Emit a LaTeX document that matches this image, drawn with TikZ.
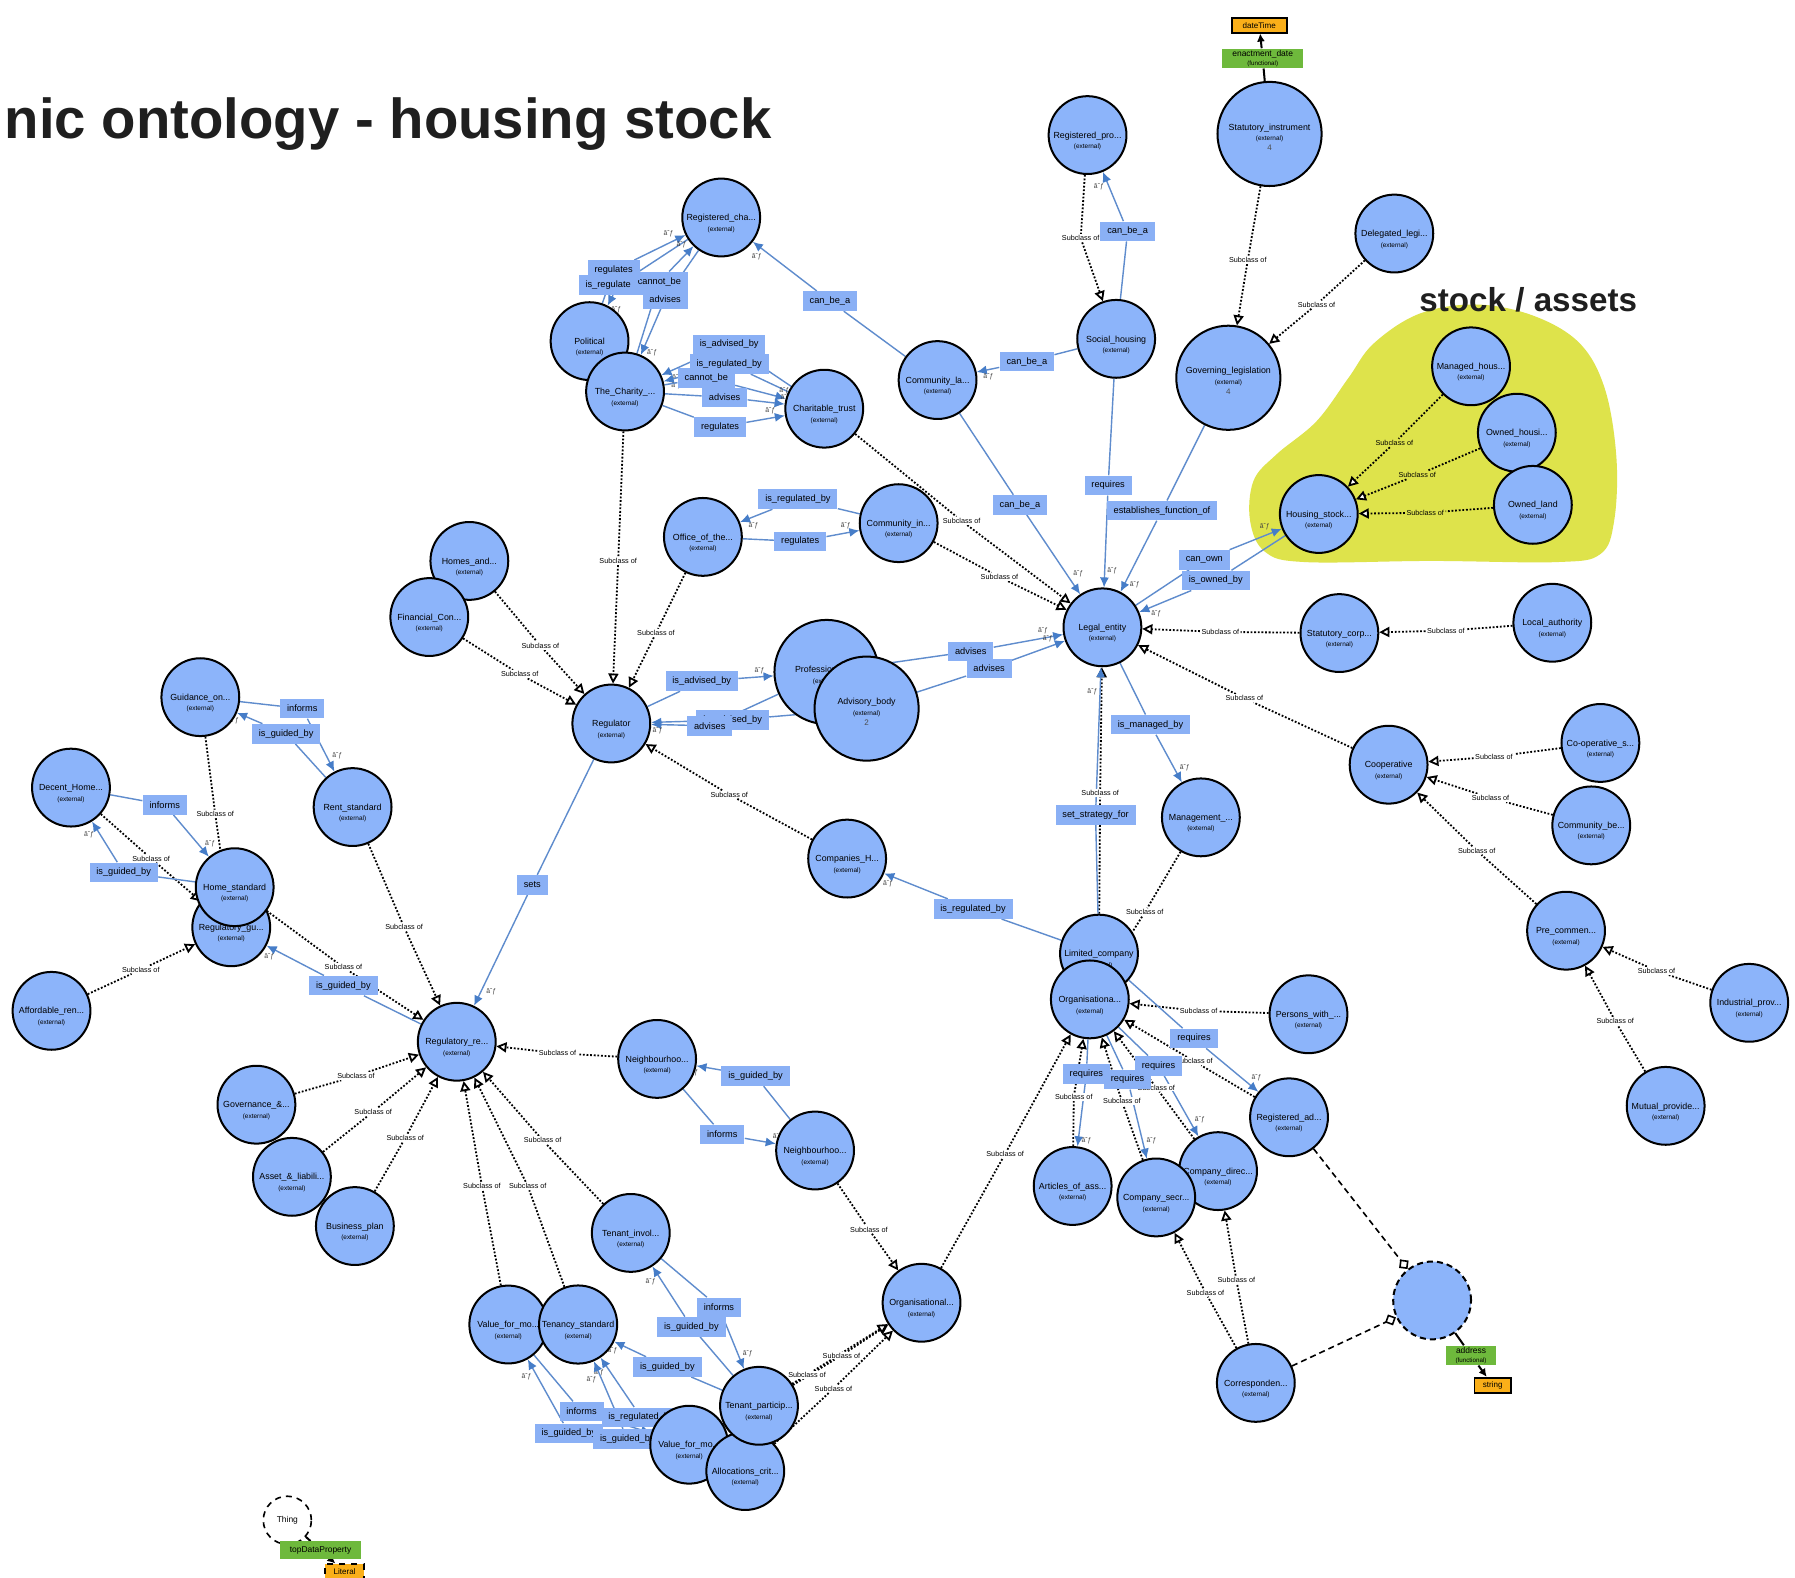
\documentclass[tikz,border=0pt]{standalone}
\usepackage{fontspec}
\setmainfont{Liberation Sans}
\usetikzlibrary{arrows.meta}

\definecolor{classblue}{RGB}{140,180,250}
\definecolor{propblue}{RGB}{138,176,245}
\definecolor{linkblue}{RGB}{95,140,205}
\definecolor{tipblue}{RGB}{70,125,200}
\definecolor{stockyellow}{RGB}{222,227,75}
\definecolor{dpgreen}{RGB}{110,185,60}
\definecolor{dtorange}{RGB}{250,175,25}

\pgfdeclarelayer{back}
\pgfdeclarelayer{links}
\pgfdeclarelayer{tags}
\pgfsetlayers{back,links,tags,main}

\newcommand{\nm}[1][9pt]{\rule{0pt}{#1}}
\newcommand{\ext}{{\fontsize{3.2}{3.8}\selectfont (external)}}
\newcommand{\func}{{\fontsize{3.1}{3.6}\selectfont (functional)}}
\newcommand{\cnt}[1]{{\fontsize{4}{5}\selectfont\color{black!70}#1}}

\begin{document}
\begin{tikzpicture}[x=0.02cm, y=-0.02cm,
    cls/.style={circle, draw=black, line width=1pt, fill=classblue, minimum size=1.36cm, inner sep=0pt, align=center, font=\fontsize{4.4}{5.2}\selectfont},
    bigcls/.style={cls, minimum size=1.82cm},
    anoncls/.style={circle, draw=black, line width=1pt, dash pattern=on 3pt off 2pt, fill=classblue, minimum size=1.36cm},
    thingcls/.style={circle, draw=black, line width=0.8pt, dash pattern=on 3pt off 2.5pt, fill=white, minimum size=0.84cm, inner sep=0pt, font=\fontsize{4.2}{5}\selectfont},
    propbox/.style={fill=propblue, inner xsep=0.12cm, inner ysep=0pt, minimum height=0.34cm, font=\fontsize{4.6}{5.5}\selectfont},
    sublbl/.style={fill=white, inner sep=0.6pt, font=\fontsize{3.6}{4.3}\selectfont},
    dpbox/.style={fill=dpgreen, minimum width=1.42cm, minimum height=0.34cm, inner sep=0pt, align=center, font=\fontsize{4.2}{4.2}\selectfont},
    dtbox/.style={fill=dtorange, draw=black, line width=0.9pt, minimum width=0.96cm, minimum height=0.26cm, inner sep=0pt, font=\fontsize{4}{4.5}\selectfont},
    sublink/.style={draw=black, line width=0.9pt, dash pattern=on 0.9pt off 0.9pt, -{Triangle[length=5pt, width=5pt, fill=white]}},
    proplink/.style={draw=linkblue, line width=0.7pt, -{Latex[length=5pt, width=4.5pt, color=tipblue]}},
    datalink/.style={draw=black, line width=1pt, -{Latex[length=4pt, width=4pt]}},
    setlink/.style={draw=black, line width=0.8pt, dash pattern=on 3pt off 2pt, -{Diamond[length=6pt, width=6pt, fill=white]}},
    exq/.style={pos=.82, auto, inner sep=1pt, font=\fontsize{3.4}{4}\selectfont, text=black!75}
]
\useasboundingbox (0,0) rectangle (1568,1378);

\begin{pgfonlayer}{back}
  \fill[white] (0,0) rectangle (1568,1378);
  \fill[stockyellow] plot[smooth cycle, tension=.6] coordinates {(1200,300) (1240,274) (1290,266) (1340,276) (1380,300) (1402,340) (1412,400) (1410,455) (1398,484) (1360,491) (1250,490) (1140,491) (1105,482) (1092,455) (1095,420) (1115,397) (1150,368) (1178,330)};
\end{pgfonlayer}

% Classes
\node[cls] (RegCharity) at (630,190) {\nm Registered\_cha...\\\ext};
\node[cls] (Political) at (515,298) {\nm Political\\\ext};
\node[cls] (Charity) at (546,342) {\nm The\_Charity\_...\\\ext};
\node[cls] (CharTrust) at (720,357) {\nm Charitable\_trust\\\ext};
\node[cls] (CommLand) at (819,332) {\nm Community\_la...\\\ext};
\node[cls] (RegProv) at (950,118) {\nm Registered\_pro...\\\ext};
\node[cls] (SocialHousing) at (975,296) {\nm Social\_housing\\\ext};
\node[bigcls] (StatInstr) at (1109,117) {\nm[6.5pt]Statutory\_instrument\\\ext\\\cnt{4}};
\node[cls] (DelegLeg) at (1218,204) {\nm Delegated\_legi...\\\ext};
\node[bigcls] (GovLeg) at (1073,330) {\nm[6.5pt]Governing\_legislation\\\ext\\\cnt{4}};
\node[cls] (ManagedHous) at (1285,320) {\nm Managed\_hous...\\\ext};
\node[cls] (OwnedHous) at (1325,378) {\nm Owned\_housi...\\\ext};
\node[cls] (OwnedLand) at (1339,441) {\nm Owned\_land\\\ext};
\node[cls] (HousingStock) at (1152,449) {\nm Housing\_stock...\\\ext};
\node[cls] (HomesAnd) at (410,490) {\nm Homes\_and...\\\ext};
\node[cls] (FinCon) at (375,539) {\nm Financial\_Con...\\\ext};
\node[cls] (OfficeOf) at (614,469) {\nm Office\_of\_the...\\\ext};
\node[cls] (CommIn) at (785,457) {\nm Community\_in...\\\ext};
\node[cls] (LegalEntity) at (963,548) {\nm Legal\_entity\\\ext};
\node[cls] (StatCorp) at (1170,553) {\nm Statutory\_corp...\\\ext};
\node[cls] (LocalAuth) at (1356,544) {\nm Local\_authority\\\ext};
\node[bigcls] (Professional) at (722,587) {\nm[6.5pt]Professional\_i...\\\ext};
\node[bigcls] (AdvBody) at (757,619) {\nm[6.5pt]Advisory\_body\\\ext\\\cnt{2}};
\node[cls] (Regulator) at (534,632) {\nm Regulator\\\ext};
\node[cls] (Guidance) at (175,609) {\nm Guidance\_on...\\\ext};
\node[cls] (RentStd) at (308,705) {\nm Rent\_standard\\\ext};
\node[cls] (DecentHome) at (62,688) {\nm Decent\_Home...\\\ext};
\node[cls] (RegGuid) at (202,810) {\nm Regulatory\_gu...\\\ext};
\node[cls] (HomeStd) at (205,775) {\nm Home\_standard\\\ext};
\node[cls] (AffRent) at (45,883) {\nm Affordable\_ren...\\\ext};
\node[cls] (Management) at (1049,714) {\nm Management\_...\\\ext};
\node[cls] (Coop) at (1213,668) {\nm Cooperative\\\ext};
\node[cls] (CoopS) at (1398,649) {\nm Co-operative\_s...\\\ext};
\node[cls] (CommBen) at (1390,721) {\nm Community\_be...\\\ext};
\node[cls] (CompHouse) at (740,750) {\nm Companies\_H...\\\ext};
\node[cls] (LtdCompany) at (960,833) {\nm Limited\_company\\\ext};
\node[cls] (OrgA) at (952,873) {\nm Organisationa...\\\ext};
\node[cls] (Persons) at (1143,886) {\nm Persons\_with\_...\\\ext};
\node[cls] (PreComm) at (1368,813) {\nm Pre\_commen...\\\ext};
\node[cls] (IndProv) at (1528,876) {\nm Industrial\_prov...\\\ext};
\node[cls] (MutProv) at (1455,966) {\nm Mutual\_provide...\\\ext};
\node[cls] (RegReq) at (399,910) {\nm Regulatory\_re...\\\ext};
\node[cls] (NeighA) at (574,925) {\nm Neighbourhoo...\\\ext};
\node[cls] (NeighB) at (712,1005) {\nm Neighbourhoo...\\\ext};
\node[cls] (Governance) at (224,965) {\nm Governance\_\&...\\\ext};
\node[cls] (Assets) at (255,1028) {\nm Asset\_\&\_liabili...\\\ext};
\node[cls] (BizPlan) at (310,1071) {\nm Business\_plan\\\ext};
\node[cls] (RegAddr) at (1126,976) {\nm Registered\_ad...\\\ext};
\node[cls] (Articles) at (937,1036) {\nm Articles\_of\_ass...\\\ext};
\node[cls] (CompDir) at (1064,1023) {\nm Company\_direc...\\\ext};
\node[cls] (CompSec) at (1010,1046) {\nm Company\_secr...\\\ext};
\node[cls] (TenInv) at (551,1077) {\nm Tenant\_invol...\\\ext};
\node[cls] (OrgB) at (805,1138) {\nm Organisational...\\\ext};
\node[cls] (ValueA) at (444,1157) {\nm Value\_for\_mo...\\\ext};
\node[cls] (TenancyStd) at (505,1157) {\nm Tenancy\_standard\\\ext};
\node[cls] (ValueB) at (602,1262) {\nm Value\_for\_mo...\\\ext};
\node[cls] (Alloc) at (651,1285) {\nm Allocations\_crit...\\\ext};
\node[cls] (TenPart) at (663,1228) {\nm Tenant\_particip...\\\ext};
\node[cls] (Corresp) at (1097,1208) {\nm Corresponden...\\\ext};
\node[anoncls] (Anon) at (1251,1136) {};
\node[thingcls] (Thing) at (251,1328) {Thing};

% Datatypes
\node[dtbox] (DateTime) at (1100,22) {dateTime};
\node[dpbox] (EnactDate) at (1103,51) {enactment\_date\\\func};
\node[dpbox, minimum width=0.88cm] (Address) at (1285,1184) {address\\\func};
\node[dtbox, minimum width=0.64cm] (String) at (1304,1210) {string};
\node[dpbox, minimum height=0.3cm] (TopDP) at (280,1354) {topDataProperty};
\node[dtbox, dashed, minimum width=0.68cm] (Literal) at (301,1373) {Literal};

% Titles
\node[anchor=base east, font=\bfseries\fontsize{28}{32}\selectfont, text=black!88] (Title) at (680,121) {nic ontology - housing stock};
\node[anchor=base, font=\bfseries\fontsize{16.5}{18}\selectfont, text=black!88] (StockTitle) at (1335,272) {stock / assets};

\begin{pgfonlayer}{tags}
% Subclass labels
\node[sublbl] (s1) at (540,490) {Subclass of};
\node[sublbl] (s2) at (573,553) {Subclass of};
\node[sublbl] (s3) at (472,564) {Subclass of};
\node[sublbl] (s4) at (454,589) {Subclass of};
\node[sublbl] (s5) at (637,694) {Subclass of};
\node[sublbl] (s6) at (840,455) {Subclass of};
\node[sublbl] (s7) at (873,504) {Subclass of};
\node[sublbl] (s8) at (1066,552) {Subclass of};
\node[sublbl] (s9) at (1263,551) {Subclass of};
\node[sublbl] (s10) at (1087,610) {Subclass of};
\node[sublbl] (s11) at (961,693) {Subclass of};
\node[sublbl] (s12) at (944,208) {Subclass of};
\node[sublbl] (s13) at (1090,227) {Subclass of};
\node[sublbl] (s14) at (1150,266) {Subclass of};
\node[sublbl, fill=none] (s15) at (1218,387) {Subclass of};
\node[sublbl, fill=none] (s16) at (1238,415) {Subclass of};
\node[sublbl, fill=none] (s17) at (1245,448) {Subclass of};
\node[sublbl] (s18) at (1305,661) {Subclass of};
\node[sublbl] (s19) at (1302,697) {Subclass of};
\node[sublbl] (s20) at (1290,743) {Subclass of};
\node[sublbl] (s21) at (1447,848) {Subclass of};
\node[sublbl] (s22) at (1411,892) {Subclass of};
\node[sublbl] (s23) at (1000,797) {Subclass of};
\node[sublbl] (s24) at (1047,883) {Subclass of};
\node[sublbl] (s25) at (1043,927) {Subclass of};
\node[sublbl] (s26) at (1010,950) {Subclass of};
\node[sublbl] (s28) at (938,958) {Subclass of};
\node[sublbl] (s27) at (980,962) {Subclass of};
\node[sublbl] (s29) at (878,1008) {Subclass of};
\node[sublbl] (s30) at (1053,1129) {Subclass of};
\node[sublbl] (s31) at (1080,1118) {Subclass of};
\node[sublbl] (s32) at (188,711) {Subclass of};
\node[sublbl] (s33) at (353,810) {Subclass of};
\node[sublbl] (s34) at (132,750) {Subclass of};
\node[sublbl] (s35) at (300,845) {Subclass of};
\node[sublbl] (s36) at (123,847) {Subclass of};
\node[sublbl] (s37) at (487,920) {Subclass of};
\node[sublbl] (s38) at (311,940) {Subclass of};
\node[sublbl] (s39) at (326,971) {Subclass of};
\node[sublbl] (s40) at (354,994) {Subclass of};
\node[sublbl] (s42) at (461,1036) {Subclass of};
\node[sublbl] (s41) at (421,1036) {Subclass of};
\node[sublbl] (s43) at (474,996) {Subclass of};
\node[sublbl] (s44) at (759,1074) {Subclass of};
\node[sublbl] (s47) at (705,1201) {Subclass of};
\node[sublbl] (s45) at (735,1184) {Subclass of};
\node[sublbl] (s46) at (728,1213) {Subclass of};

% Property labels
\node[propbox] (p2) at (540,249) {is\_regulated\_by};
\node[propbox] (p3) at (576,246) {cannot\_be};
\node[propbox] (p1) at (536,236) {regulates};
\node[propbox] (p4) at (581,261) {advises};
\node[propbox] (p5) at (637,301) {is\_advised\_by};
\node[propbox] (p6) at (637,318) {is\_regulated\_by};
\node[propbox] (p7) at (617,330) {cannot\_be};
\node[propbox] (p8) at (633,347) {advises};
\node[propbox] (p9) at (629,373) {regulates};
\node[propbox] (p10) at (725,263) {can\_be\_a};
\node[propbox] (p11) at (897,316) {can\_be\_a};
\node[propbox] (p12) at (985,202) {can\_be\_a};
\node[propbox] (p13) at (968,424) {requires};
\node[propbox] (p14) at (891,441) {can\_be\_a};
\node[propbox] (p15) at (1015,446) {establishes\_function\_of};
\node[propbox] (p16) at (1052,489) {can\_own};
\node[propbox] (p17) at (1062,507) {is\_owned\_by};
\node[propbox] (p18) at (697,436) {is\_regulated\_by};
\node[propbox] (p19) at (699,473) {regulates};
\node[propbox] (p20) at (848,569) {advises};
\node[propbox] (p21) at (864,584) {advises};
\node[propbox] (p22) at (613,595) {is\_advised\_by};
\node[propbox] (p23) at (640,629) {is\_advised\_by};
\node[propbox] (p24) at (620,634) {advises};
\node[propbox] (p25) at (465,773) {sets};
\node[propbox] (p26) at (850,794) {is\_regulated\_by};
\node[propbox] (p27) at (957,712) {set\_strategy\_for};
\node[propbox] (p28) at (1005,633) {is\_managed\_by};
\node[propbox] (p29) at (264,619) {informs};
\node[propbox] (p30) at (250,641) {is\_guided\_by};
\node[propbox] (p31) at (144,703) {informs};
\node[propbox] (p32) at (108,762) {is\_guided\_by};
\node[propbox] (p33) at (300,861) {is\_guided\_by};
\node[propbox] (p34) at (660,940) {is\_guided\_by};
\node[propbox] (p35) at (631,991) {informs};
\node[propbox] (p37) at (628,1142) {informs};
\node[propbox] (p36) at (604,1159) {is\_guided\_by};
\node[propbox] (p38) at (583,1194) {is\_guided\_by};
\node[propbox] (p40) at (508,1233) {informs};
\node[propbox] (p39) at (497,1252) {is\_guided\_by};
\node[propbox] (p41) at (560,1238) {is\_regulated\_by};
\node[propbox] (p42) at (548,1257) {is\_guided\_by};
\node[propbox] (p43) at (1043,907) {requires};
\node[propbox] (p44) at (1012,931) {requires};
\node[propbox] (p46) at (985,943) {requires};
\node[propbox] (p45) at (949,938) {requires};
\end{pgfonlayer}

\begin{pgfonlayer}{links}
% Subclass links
\draw[sublink] (Charity) -- (s1) -- (Regulator);
\draw[sublink] (OfficeOf) -- (s2) -- (Regulator);
\draw[sublink] (HomesAnd) -- (s3) -- (Regulator);
\draw[sublink] (FinCon) -- (s4) -- (Regulator);
\draw[sublink] (CompHouse) -- (s5) -- (Regulator);
\draw[sublink] (CharTrust) -- (s6) -- (LegalEntity);
\draw[sublink] (CommIn) -- (s7) -- (LegalEntity);
\draw[sublink] (StatCorp) -- (s8) -- (LegalEntity);
\draw[sublink] (LocalAuth) -- (s9) -- (StatCorp);
\draw[sublink] (Coop) -- (s10) -- (LegalEntity);
\draw[sublink] (LtdCompany) -- (s11) -- (LegalEntity);
\draw[sublink] (RegProv) -- (s12) -- (SocialHousing);
\draw[sublink] (StatInstr) -- (s13) -- (GovLeg);
\draw[sublink] (DelegLeg) -- (s14) -- (GovLeg);
\draw[sublink] (ManagedHous) -- (s15) -- (HousingStock);
\draw[sublink] (OwnedHous) -- (s16) -- (HousingStock);
\draw[sublink] (OwnedLand) -- (s17) -- (HousingStock);
\draw[sublink] (CoopS) -- (s18) -- (Coop);
\draw[sublink] (CommBen) -- (s19) -- (Coop);
\draw[sublink] (PreComm) -- (s20) -- (Coop);
\draw[sublink] (IndProv) -- (s21) -- (PreComm);
\draw[sublink] (MutProv) -- (s22) -- (PreComm);
\draw[sublink] (Management) -- (s23) -- (OrgA);
\draw[sublink] (Persons) -- (s24) -- (OrgA);
\draw[sublink] (RegAddr) -- (s25) -- (OrgA);
\draw[sublink] (CompDir) -- (s26) -- (OrgA);
\draw[sublink] (CompSec) -- (s27) -- (OrgA);
\draw[sublink] (Articles) -- (s28) -- (OrgA);
\draw[sublink] (OrgB) -- (s29) -- (OrgA);
\draw[sublink] (Corresp) -- (s30) -- (CompSec);
\draw[sublink] (Corresp) -- (s31) -- (CompDir);
\draw[sublink] (Guidance) -- (s32) -- (RegGuid);
\draw[sublink] (RentStd) -- (s33) -- (RegReq);
\draw[sublink] (DecentHome) -- (s34) -- (RegGuid);
\draw[sublink] (HomeStd) -- (s35) -- (RegReq);
\draw[sublink] (AffRent) -- (s36) -- (RegGuid);
\draw[sublink] (NeighA) -- (s37) -- (RegReq);
\draw[sublink] (Governance) -- (s38) -- (RegReq);
\draw[sublink] (Assets) -- (s39) -- (RegReq);
\draw[sublink] (BizPlan) -- (s40) -- (RegReq);
\draw[sublink] (ValueA) -- (s41) -- (RegReq);
\draw[sublink] (TenancyStd) -- (s42) -- (RegReq);
\draw[sublink] (TenInv) -- (s43) -- (RegReq);
\draw[sublink] (NeighB) -- (s44) -- (OrgB);
\draw[sublink] (TenPart) -- (s45) -- (OrgB);
\draw[sublink] (Alloc) -- (s46) -- (OrgB);
\draw[sublink] (ValueB) -- (s47) -- (OrgB);

% Object properties
\draw[proplink] (Political) -- (p1) -- node[exq] {âˆƒ} (RegCharity);
\draw[proplink] (RegCharity) -- (p2) -- node[exq] {âˆƒ} (Political);
\draw[proplink] (Charity) -- (p3) -- node[exq] {âˆƒ} (RegCharity);
\draw[proplink] (RegCharity) -- (p4) -- node[exq] {âˆƒ} (Charity);
\draw[proplink] (CharTrust) -- (p5) -- node[exq] {âˆƒ} (Charity);
\draw[proplink] (CharTrust) -- (p6) -- node[exq] {âˆƒ} (Charity);
\draw[proplink] (Charity) -- (p7) -- node[exq] {âˆƒ} (CharTrust);
\draw[proplink] (Charity) -- (p8) -- node[exq] {âˆƒ} (CharTrust);
\draw[proplink] (Charity) -- (p9) -- node[exq] {âˆƒ} (CharTrust);
\draw[proplink] (CommLand) -- (p10) -- node[exq] {âˆƒ} (RegCharity);
\draw[proplink] (SocialHousing) -- (p11) -- node[exq] {âˆƒ} (CommLand);
\draw[proplink] (SocialHousing) -- (p12) -- node[exq] {âˆƒ} (RegProv);
\draw[proplink] (SocialHousing) -- (p13) -- node[exq] {âˆƒ} (LegalEntity);
\draw[proplink] (CommLand) -- (p14) -- node[exq] {âˆƒ} (LegalEntity);
\draw[proplink] (GovLeg) -- (p15) -- node[exq] {âˆƒ} (LegalEntity);
\draw[proplink] (LegalEntity) -- (p16) -- node[exq] {âˆƒ} (HousingStock);
\draw[proplink] (HousingStock) -- (p17) -- node[exq] {âˆƒ} (LegalEntity);
\draw[proplink] (CommIn) -- (p18) -- node[exq] {âˆƒ} (OfficeOf);
\draw[proplink] (OfficeOf) -- (p19) -- node[exq] {âˆƒ} (CommIn);
\draw[proplink] (Professional) -- (p20) -- node[exq] {âˆƒ} (LegalEntity);
\draw[proplink] (AdvBody) -- (p21) -- node[exq] {âˆƒ} (LegalEntity);
\draw[proplink] (Regulator) -- (p22) -- node[exq] {âˆƒ} (Professional);
\draw[proplink] (AdvBody) -- (p23) -- (Regulator);
\draw[proplink] (Professional) -- (p24) -- node[exq] {âˆƒ} (Regulator);
\draw[proplink] (Regulator) -- (p25) -- node[exq] {âˆƒ} (RegReq);
\draw[proplink] (LtdCompany) -- (p26) -- node[exq] {âˆƒ} (CompHouse);
\draw[proplink] (LtdCompany) -- (p27) -- node[exq] {âˆƒ} (LegalEntity);
\draw[proplink] (LegalEntity) -- (p28) -- node[exq] {âˆƒ} (Management);
\draw[proplink] (Guidance) -- (p29) -- node[exq] {âˆƒ} (RentStd);
\draw[proplink] (RentStd) -- (p30) -- node[exq] {âˆƒ} (Guidance);
\draw[proplink] (DecentHome) -- (p31) -- node[exq] {âˆƒ} (HomeStd);
\draw[proplink] (HomeStd) -- (p32) -- node[exq] {âˆƒ} (DecentHome);
\draw[proplink] (RegReq) -- (p33) -- node[exq] {âˆƒ} (RegGuid);
\draw[proplink] (NeighB) -- (p34) -- node[exq] {âˆƒ} (NeighA);
\draw[proplink] (NeighA) -- (p35) -- node[exq] {âˆƒ} (NeighB);
\draw[proplink] (TenPart) -- (p36) -- node[exq] {âˆƒ} (TenInv);
\draw[proplink] (TenInv) -- (p37) -- node[exq] {âˆƒ} (TenPart);
\draw[proplink] (TenPart) -- (p38) -- node[exq] {âˆƒ} (TenancyStd);
\draw[proplink] (ValueB) -- (p39) -- node[exq] {âˆƒ} (ValueA);
\draw[proplink] (ValueA) -- (p40) -- (ValueB);
\draw[proplink] (Alloc) -- (p41) -- node[exq] {âˆƒ} (TenancyStd);
\draw[proplink] (ValueB) -- (p42) -- node[exq] {âˆƒ} (TenancyStd);
\draw[proplink] (LtdCompany) -- (p43) -- node[exq] {âˆƒ} (RegAddr);
\draw[proplink] (OrgA) -- (p44) -- node[exq] {âˆƒ} (CompDir);
\draw[proplink] (OrgA) -- (p45) -- node[exq] {âˆƒ} (Articles);
\draw[proplink] (OrgA) -- (p46) -- node[exq] {âˆƒ} (CompSec);

% Datatype properties
\draw[datalink] (StatInstr) -- (EnactDate) -- (DateTime);
\draw[datalink] (Anon) -- (Address) -- (String);
\draw[datalink] (Thing) -- (TopDP) -- (Literal);

% Set links
\draw[setlink] (RegAddr) -- (Anon);
\draw[setlink] (Corresp) -- (Anon);
\end{pgfonlayer}

\end{tikzpicture}
\end{document}
